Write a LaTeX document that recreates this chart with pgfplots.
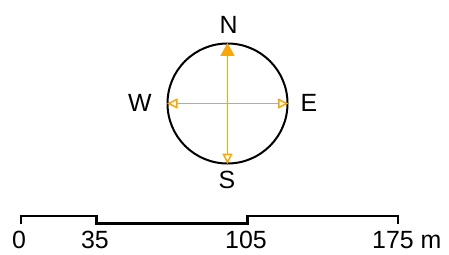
\documentclass[border=0pt]{standalone}
\usepackage{pgfplots}
\pgfplotsset{compat=1.18}
\usepackage{pgfplotstable}
\usepackage{fontspec}
\setmainfont{Liberation Sans}
\usetikzlibrary{arrows.meta}
\definecolor{compassorange}{HTML}{FFA500}
% scale bar outline, distances in metres; y in pixel rows
\pgfplotstableread{
m    y
0    224
0    216
35   216
35   223.5
105  223.5
105  216
175  216
175  224
}\scalebar
\begin{document}
\begin{tikzpicture}
\begin{axis}[
  width=449bp, height=255bp, scale only axis,
  xmin=0, xmax=449, ymin=0, ymax=255,
  y dir=reverse, hide axis, clip=false,
]
\path (rel axis cs:0,0) rectangle (rel axis cs:1,1);
% compass ring
\draw[black, line width=2bp] (axis cs:227.5,103.5) circle [radius=60];
% arrows
\addplot[compassorange, line width=1.5bp, -{Triangle[length=13bp,width=14bp]}] coordinates {(227.5,103.5) (227.5,43)};
\addplot[compassorange, line width=1.5bp, -{Triangle[open,length=10.5bp,width=10bp]}] coordinates {(227.5,103.5) (227.5,164)};
\addplot[compassorange, line width=1.5bp, -{Triangle[open,length=10.5bp,width=10bp]}] coordinates {(227.5,103.5) (167,103.5)};
\addplot[compassorange, line width=1.5bp, -{Triangle[open,length=10.5bp,width=10bp]}] coordinates {(227.5,103.5) (288.5,103.5)};
% labels
\node[anchor=base, font=\fontsize{25}{30}\selectfont, inner sep=0pt] at (axis cs:228.5,33) {N};
\node[anchor=base, font=\fontsize{25}{30}\selectfont, inner sep=0pt] at (axis cs:227,188) {S};
\node[anchor=base, font=\fontsize{25}{30}\selectfont, inner sep=0pt] at (axis cs:140,111.5) {W};
\node[anchor=base, font=\fontsize{25}{30}\selectfont, inner sep=0pt] at (axis cs:309,111.5) {E};
% scale bar
\addplot[black, line width=2.8bp, line join=miter] table[x expr={21+2.1543*\thisrow{m}}, y=y] {\scalebar};
\node[anchor=base, font=\fontsize{25}{30}\selectfont, inner sep=0pt] at (axis cs:19,248) {0};
\node[anchor=base, font=\fontsize{25}{30}\selectfont, inner sep=0pt] at (axis cs:95,248) {35};
\node[anchor=base, font=\fontsize{25}{30}\selectfont, inner sep=0pt] at (axis cs:246,248) {105};
\node[anchor=base west, font=\fontsize{25}{30}\selectfont, inner sep=0pt] at (axis cs:372,248) {175 m};
\end{axis}
\end{tikzpicture}
\end{document}
